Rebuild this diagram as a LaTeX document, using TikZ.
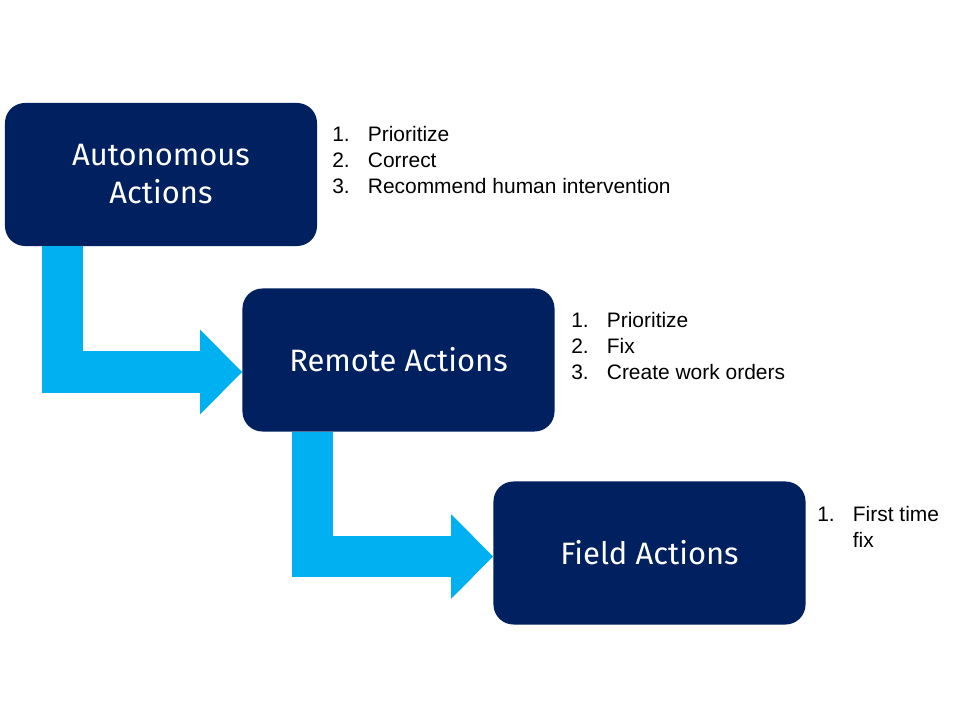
\documentclass[tikz,border=0pt]{standalone}
\usepackage{fontspec}
\setmainfont{Liberation Sans}
\newfontfamily\boxfont{Fira Sans}
\usetikzlibrary{arrows.meta,positioning}
\definecolor{navy}{HTML}{002060}
\definecolor{skyblue}{HTML}{00B0F0}

\tikzset{
  action/.style={fill=navy, text=white, rounded corners=0.5cm, inner sep=0pt,
    minimum width=7.8cm, minimum height=3.575cm, align=center,
    font=\boxfont\fontsize{22}{27}\selectfont},
  steps/.style={anchor=base west, inner sep=0pt, font=\fontsize{14.9}{18.4}\selectfont},
  flow/.style={draw=skyblue, line width=1.025cm, line join=miter,
    -{Triangle[length=1.05cm,width=2.05cm]}}
}

\begin{document}
\begin{tikzpicture}[x=0.025cm, y=-0.025cm]
  \useasboundingbox (0,0) rectangle (960,720);

  \node[action] (auto)   at (161,174.5) {Autonomous\\Actions};
  \node[action] (remote) at (398.5,360) {Remote Actions};
  \node[action] (field)  at (649.5,553) {Field Actions};

  \node[steps] (autolist) at (332,142)
    {\begin{tabular}[t]{@{}p{0.89cm}@{}l@{}}1.&Prioritize\\2.&Correct\\3.&Recommend human intervention\end{tabular}};
  \node[steps] (remotelist) at (571,328)
    {\begin{tabular}[t]{@{}p{0.89cm}@{}l@{}}1.&Prioritize\\2.&Fix\\3.&Create work orders\end{tabular}};
  \node[steps] (fieldlist) at (817,522)
    {\begin{tabular}[t]{@{}p{0.89cm}@{}l@{}}1.&First time\\&fix\end{tabular}};

  \draw[flow] ([xshift=1.4375cm]auto.south west) |- ([yshift=-0.3cm]remote.west);
  \draw[flow] ([xshift=1.7625cm]remote.south west) |- ([yshift=-0.0875cm]field.west);
\end{tikzpicture}
\end{document}
